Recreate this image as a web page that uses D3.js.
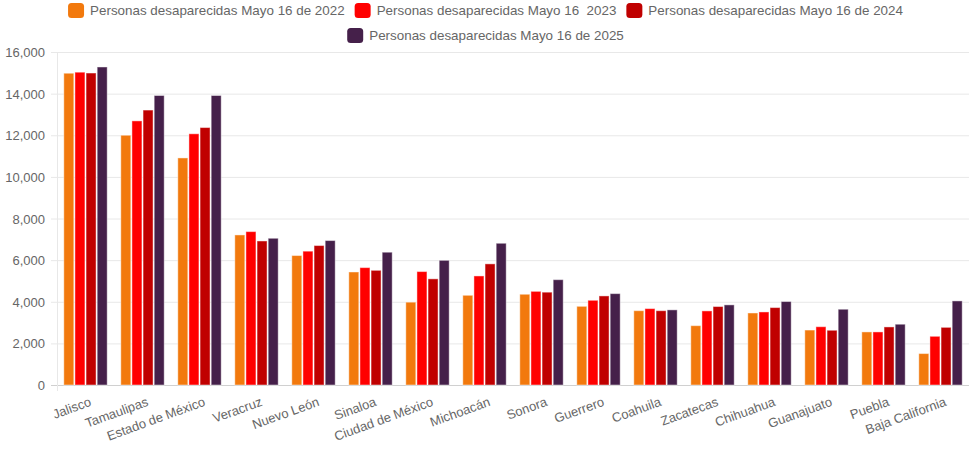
<!DOCTYPE html>
<html lang="es">
<head>
<meta charset="UTF-8">
<script src="https://d3js.org/d3.v7.min.js"></script>
<style>
  html, body { margin: 0; padding: 0; background: #fff; }
  svg { display: block; font-family: "Liberation Sans", Arial, sans-serif; }
  .tick text { fill: #666; font-size: 13px; }
  .legend text { fill: #666; font-size: 13.4px; white-space: pre; }
</style>
</head>
<body>
<div id="chart"></div>
<script>
// states, ordered as in the chart
const estados = ["Jalisco", "Tamaulipas", "Estado de México", "Veracruz", "Nuevo León", "Sinaloa",
  "Ciudad de México", "Michoacán", "Sonora", "Guerrero", "Coahuila", "Zacatecas", "Chihuahua",
  "Guanajuato", "Puebla", "Baja California"];

const series = ["Personas desaparecidas Mayo 16 de 2022", "Personas desaparecidas Mayo 16  2023",
  "Personas desaparecidas Mayo 16 de 2024", "Personas desaparecidas Mayo 16 de 2025"];

const v2022 = [14980, 12000, 10910, 7210, 6220, 5430, 3980, 4310, 4360, 3780, 3570, 2850, 3460, 2640, 2550, 1510];
const v2023 = [15030, 12690, 12070, 7370, 6430, 5640, 5450, 5240, 4500, 4070, 3670, 3560, 3510, 2800, 2550, 2340];
const v2024 = [14990, 13210, 12370, 6920, 6700, 5510, 5100, 5820, 4460, 4280, 3570, 3770, 3720, 2630, 2790, 2770];
const v2025 = [15280, 13910, 13910, 7050, 6940, 6380, 5990, 6810, 5060, 4390, 3610, 3850, 4010, 3640, 2920, 4040];

const colores = ["#f2790d", "#ff0000", "#c00000", "#45204a"];
const yTicks = [0, 2000, 4000, 6000, 8000, 10000, 12000, 14000, 16000];

const valores = [v2022, v2023, v2024, v2025];

var width = 971, height = 452;
var margin = {top: 52, right: 2, bottom: 67, left: 57};

var svg = d3.select("#chart").append("svg")
  .attr("width", width)
  .attr("height", height);

var x0 = d3.scaleBand()
  .domain(estados)
  .range([margin.left, width - margin.right])
  .paddingInner(0.2)
  .paddingOuter(0.1);

// band without padding, used to place the labels
var xFull = d3.scaleBand().domain(estados).range([margin.left, width - margin.right]);

var x1 = d3.scaleBand()
  .domain(d3.range(series.length))
  .range([0, x0.bandwidth()])
  .padding(0.1);

var y = d3.scaleLinear()
  .domain([0, 16000])
  .range([height - margin.bottom, margin.top]);

// gridlines
svg.append("g")
  .selectAll("line")
  .data(yTicks)
  .enter().append("line")
  .attr("x1", margin.left - 6)
  .attr("x2", width - margin.right)
  .attr("y1", d => y(d) + 0.5)
  .attr("y2", d => y(d) + 0.5)
  .attr("stroke", d => d === 0 ? "#d0d0d0" : "#e8e8e8")
  .attr("stroke-width", 1);

svg.append("line")
  .attr("x1", margin.left + 0.5).attr("x2", margin.left + 0.5)
  .attr("y1", margin.top).attr("y2", y(0) + 6)
  .attr("stroke", "#e8e8e8");

// y axis
var yAxis = svg.append("g")
  .attr("transform", "translate(" + (margin.left - 10) + ",0)")
  .call(d3.axisLeft(y).tickValues(yTicks).tickFormat(d3.format(",")).tickSize(0).tickPadding(2));
yAxis.select(".domain").remove();
yAxis.selectAll("text").attr("dy", "0.35em");

// bars
var grupos = svg.append("g")
  .selectAll("g")
  .data(estados)
  .enter().append("g")
  .attr("transform", d => "translate(" + x0(d) + ",0)");

grupos.selectAll("rect")
  .data((d, i) => valores.map((s, k) => ({k: k, v: s[i]})))
  .enter().append("rect")
  .attr("x", d => x1(d.k))
  .attr("width", x1.bandwidth())
  .attr("y", d => y(d.v))
  .attr("height", d => y(0) - y(d.v))
  .attr("fill", d => colores[d.k])
  .attr("stroke", "rgba(255,255,255,0.45)")
  .attr("stroke-width", 1);

// x axis labels
svg.append("g")
  .selectAll("text")
  .data(estados)
  .enter().append("text")
  .attr("transform", d => "translate(" + (xFull(d) + xFull.bandwidth() / 2 + 5) + "," + (y(0) + 16) + ") rotate(-20)")
  .attr("text-anchor", "end")
  .attr("dy", "0.35em")
  .style("fill", "#666")
  .style("font-size", "13px")
  .text(d => d);

// legend
var legend = svg.append("g").attr("class", "legend");
var items = legend.selectAll("g")
  .data(series)
  .enter().append("g");

items.append("rect")
  .attr("width", 16).attr("height", 15)
  .attr("rx", 3.5).attr("ry", 3.5)
  .attr("fill", (d, i) => colores[i]);

items.append("text")
  .attr("x", 22)
  .attr("y", 7.5)
  .attr("dy", "0.35em")
  .text(d => d);

// wrap into rows and center them
var gap = 10;
var rows = [], row = [], rowW = 0, maxW = width - 20;
items.each(function() {
  var w = 22 + this.querySelector("text").getComputedTextLength() + gap;
  if (rowW + w > maxW && row.length) { rows.push({items: row, w: rowW}); row = []; rowW = 0; }
  row.push({el: this, w: w});
  rowW += w;
});
rows.push({items: row, w: rowW});

rows.forEach(function(r, ri) {
  var xx = (width - (r.w - gap)) / 2;
  r.items.forEach(function(it) {
    d3.select(it.el).attr("transform", "translate(" + xx + "," + (3 + ri * 25) + ")");
    xx += it.w;
  });
});
</script>
</body>
</html>
